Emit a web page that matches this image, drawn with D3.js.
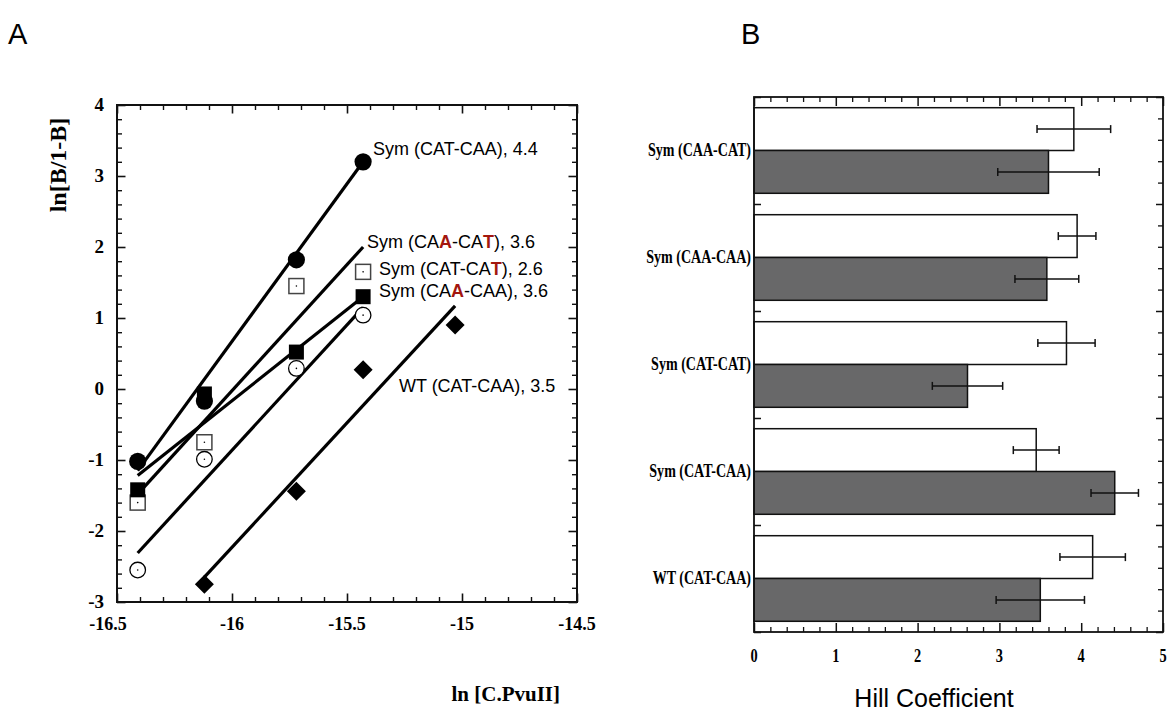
<!DOCTYPE html>
<html><head><meta charset="utf-8">
<script src="https://cdn.jsdelivr.net/npm/d3@7/dist/d3.min.js"></script>
<style>
body{margin:0;background:#fff;}
svg{display:block;}
</style></head>
<body>
<svg id="c" width="1171" height="713"></svg>
<script>
// ---------- Panel A data ----------
const concSym = [-16.41, -16.12, -15.72, -15.43];          // ln [C.PvuII]
const symCatCaaPts = [-1.02, -0.17, 1.82, 3.20];             // filled circles
const symCatCatPts = [-1.60, -0.75, 1.45, 1.65];             // open squares
const symCaaCaaPts = [-1.42, -0.07, 0.52, 1.30];             // filled squares
const symCaaCatPts = [-2.55, -0.99, 0.29, 1.04];             // open circles
const concWt = [-16.12, -15.72, -15.43, -15.03];
const wtPts = [-2.75, -1.44, 0.27, 0.90];                    // diamonds

const fitX1 = [-16.41, -16.41, -16.41, -16.41, -16.12];
const fitY1 = [-1.15, -1.22, -1.48, -2.31, -2.65];
const fitX2 = [-15.43, -15.43, -15.43, -15.43, -15.03];
const fitY2 = [3.20, 1.30, 2.00, 1.15, 1.17];

const fitLabels = [
  [["Sym (CAT-CAA), 4.4",0]],
  [["Sym (CA",0],["A",1],["-CA",0],["T",1],["), 3.6",0]],
  [["Sym (CAT-CA",0],["T",1],["), 2.6",0]],
  [["Sym (CA",0],["A",1],["-CAA), 3.6",0]],
  [["WT (CAT-CAA), 3.5",0]]
];
const fitLabelX = [-15.387, -15.413, -15.361, -15.361, -15.274];
const fitLabelY = [3.30, 1.99, 1.61, 1.30, -0.04];

const xTicksA = [-16.5, -16, -15.5, -15, -14.5];
const yTicksA = [-3, -2, -1, 0, 1, 2, 3, 4];

// ---------- Panel B data ----------
const hillCats = ["Sym (CAA-CAT)", "Sym (CAA-CAA)", "Sym (CAT-CAT)", "Sym (CAT-CAA)", "WT (CAT-CAA)"];
const hillOpen = [3.91, 3.95, 3.82, 3.45, 4.14];
const hillOpenErr = [0.45, 0.23, 0.35, 0.28, 0.40];
const hillFilled = [3.60, 3.58, 2.61, 4.41, 3.50];
const hillFilledErr = [0.62, 0.39, 0.43, 0.29, 0.54];
const xTicksB = [0, 1, 2, 3, 4, 5];

// ---------- drawing ----------
const svg = d3.select("#c");
const SERIF = "'Liberation Serif','Times New Roman',serif";
const SANS = "'Liberation Sans',Arial,sans-serif";
const RED = "#a3170f";

function range(a, b, s){ const r=[]; for(let v=a; v<=b+1e-9; v+=s) r.push(+v.toFixed(4)); return r; }
function isMajor(v, m){ return Math.abs(v/m - Math.round(v/m)) < 1e-6; }

// Panel labels
svg.append("text").attr("x", 8).attr("y", 44).attr("font-family", SANS).attr("font-size", 29).text("A");
svg.append("text").attr("x", 741).attr("y", 44).attr("font-family", SANS).attr("font-size", 29).text("B");

// ===== Panel A =====
const A = {l:117, r:577, t:105, b:602};
const xA = d3.scaleLinear().domain([-16.5, -14.5]).range([A.l, A.r]);
const yA = d3.scaleLinear().domain([-3, 4]).range([A.b, A.t]);
const gA = svg.append("g");

function ticksA(){
  const minorX = range(-16.5, -14.5, 0.1);
  const minorY = range(-3, 4, 0.2);
  const mk = (axis, vals, major, len, tr) => {
    const g = gA.append("g").attr("transform", tr)
      .call(axis.tickValues(vals.filter(v => !isMajor(v, major) )).tickSize(len).tickFormat(""));
    g.select(".domain").remove();
    g.selectAll("line").attr("stroke", "#111").attr("stroke-width", 1.4);
    const g2 = gA.append("g").attr("transform", tr)
      .call(axis.tickValues(vals.filter(v => isMajor(v, major))).tickSize(len*1.7).tickFormat(""));
    g2.select(".domain").remove();
    g2.selectAll("line").attr("stroke", "#111").attr("stroke-width", 1.6);
  };
  mk(d3.axisBottom(xA), minorX, 0.5, -5, `translate(0,${A.b})`);
  mk(d3.axisTop(xA), minorX, 0.5, -5, `translate(0,${A.t})`);
  mk(d3.axisLeft(yA), minorY, 1, -5, `translate(${A.l},0)`);
  mk(d3.axisRight(yA), minorY, 1, -5, `translate(${A.r},0)`);
}
ticksA();
gA.append("rect").attr("x", A.l).attr("y", A.t).attr("width", A.r-A.l).attr("height", A.b-A.t)
  .attr("fill", "none").attr("stroke", "#111").attr("stroke-width", 2);

gA.selectAll(".xl").data(xTicksA).enter().append("text")
  .attr("x", (d,i) => xA(d) - (i === 0 ? 9 : 0)).attr("y", A.b + 28).attr("text-anchor", "middle")
  .attr("font-family", SERIF).attr("font-weight", "bold").attr("font-size", 18)
  .text(d => String(d));
gA.selectAll(".yl").data(yTicksA).enter().append("text")
  .attr("x", A.l - 13).attr("y", d => yA(d) + 6).attr("text-anchor", "end")
  .attr("font-family", SERIF).attr("font-weight", "bold").attr("font-size", 19)
  .text(d => String(d));

gA.append("text").attr("transform", `translate(66,165) rotate(-90)`).attr("text-anchor", "middle")
  .attr("font-family", SERIF).attr("font-weight", "bold").attr("font-size", 24)
  .text("ln[B/1-B]");
gA.append("text").attr("x", 560).attr("y", 701).attr("text-anchor", "end")
  .attr("font-family", SERIF).attr("font-weight", "bold").attr("font-size", 21)
  .text("ln [C.PvuII]");

// fit lines
gA.selectAll(".fit").data(fitX1.map((d,i)=>i)).enter().append("line")
  .attr("x1", i => xA(fitX1[i])).attr("y1", i => yA(fitY1[i]))
  .attr("x2", i => xA(fitX2[i])).attr("y2", i => yA(fitY2[i]))
  .attr("stroke", "#000").attr("stroke-width", 3.2);

// markers
const zipA = (xs, ys) => xs.map((x,i)=>({x, y: ys[i]}));
// open circles
const oc = gA.selectAll(".oc").data(zipA(concSym, symCaaCatPts)).enter().append("g")
  .attr("transform", d => `translate(${xA(d.x)},${yA(d.y)})`);
oc.append("circle").attr("r", 7.8).attr("fill", "#fff").attr("stroke", "#000").attr("stroke-width", 1.3);
oc.append("circle").attr("r", 0.8).attr("fill", "#000");
// open squares
const os = gA.selectAll(".os").data(zipA(concSym, symCatCatPts)).enter().append("g")
  .attr("transform", d => `translate(${xA(d.x)},${yA(d.y)})`);
os.append("rect").attr("x", -7.5).attr("y", -7.5).attr("width", 15).attr("height", 15)
  .attr("fill", "#fff").attr("stroke", "#444").attr("stroke-width", 1.5);
os.append("circle").attr("r", 0.8).attr("fill", "#000");
// filled squares
gA.selectAll(".fs").data(zipA(concSym, symCaaCaaPts)).enter().append("rect")
  .attr("x", d => xA(d.x) - 7.5).attr("y", d => yA(d.y) - 7.5).attr("width", 15).attr("height", 15)
  .attr("fill", "#000");
// filled circles
gA.selectAll(".fc").data(zipA(concSym, symCatCaaPts)).enter().append("circle")
  .attr("cx", d => xA(d.x)).attr("cy", d => yA(d.y)).attr("r", 8.6).attr("fill", "#000");
// diamonds
gA.selectAll(".dm").data(zipA(concWt, wtPts)).enter().append("path")
  .attr("transform", d => `translate(${xA(d.x)},${yA(d.y)})`)
  .attr("d", "M0,-9.5L9.5,0L0,9.5L-9.5,0Z").attr("fill", "#000");

// fit labels
fitLabels.forEach((parts, i) => {
  const t = gA.append("text").attr("x", xA(fitLabelX[i])).attr("y", yA(fitLabelY[i]))
    .attr("font-family", SANS).attr("font-size", 18).attr("fill", "#000");
  parts.forEach(p => {
    const s = t.append("tspan").text(p[0]);
    if (p[1]) s.attr("fill", RED).attr("font-weight", "bold");
  });
});

// ===== Panel B =====
const B = {l:754, r:1163, t:97, b:632};
const xB = d3.scaleLinear().domain([0, 5]).range([B.l, B.r]);
const yB = d3.scaleBand().domain(hillCats).range([B.t, B.b]).paddingInner(0.2).paddingOuter(0.1);
const ySub = d3.scaleBand().domain(["open", "filled"]).range([0, yB.bandwidth()]);
const yTickB = d3.scaleLinear().domain([0, 5]).range([B.t, B.b]);
const gB = svg.append("g");

function ticksB(){
  const minorX = range(0, 5, 0.2);
  const minorY = range(0, 5, 0.2);
  const mk = (axis, vals, len, majLen, tr) => {
    const g = gB.append("g").attr("transform", tr)
      .call(axis.tickValues(vals.filter(v => !isMajor(v, 1))).tickSize(len).tickFormat(""));
    g.select(".domain").remove();
    g.selectAll("line").attr("stroke", "#111").attr("stroke-width", 1.3);
    const g2 = gB.append("g").attr("transform", tr)
      .call(axis.tickValues(vals.filter(v => isMajor(v, 1))).tickSize(majLen).tickFormat(""));
    g2.select(".domain").remove();
    g2.selectAll("line").attr("stroke", "#111").attr("stroke-width", 1.5);
  };
  mk(d3.axisBottom(xB), minorX, -5, -9, `translate(0,${B.b})`);
  mk(d3.axisTop(xB), minorX, -5, -9, `translate(0,${B.t})`);
  mk(d3.axisLeft(yTickB), minorY, -5, -7, `translate(${B.l},0)`);
  mk(d3.axisRight(yTickB), minorY, -5, -7, `translate(${B.r},0)`);
}
ticksB();

const barsG = gB.selectAll(".grp").data(hillCats).enter().append("g")
  .attr("transform", d => `translate(0,${yB(d)})`);
barsG.append("rect").attr("x", xB(0)).attr("y", ySub("open"))
  .attr("width", (d,i) => xB(hillOpen[i]) - xB(0)).attr("height", ySub.bandwidth())
  .attr("fill", "#fff").attr("stroke", "#111").attr("stroke-width", 1.5);
barsG.append("rect").attr("x", xB(0)).attr("y", ySub("filled"))
  .attr("width", (d,i) => xB(hillFilled[i]) - xB(0)).attr("height", ySub.bandwidth())
  .attr("fill", "#686869").attr("stroke", "#111").attr("stroke-width", 1.5);

function errBar(g, val, err, key){
  const yc = ySub(key) + ySub.bandwidth()/2;
  g.append("line").attr("x1", (d,i) => xB(val[i]-err[i])).attr("x2", (d,i) => xB(val[i]+err[i]))
    .attr("y1", yc).attr("y2", yc).attr("stroke", "#111").attr("stroke-width", 1.5);
  [-1, 1].forEach(s => {
    g.append("line").attr("x1", (d,i) => xB(val[i]+s*err[i])).attr("x2", (d,i) => xB(val[i]+s*err[i]))
      .attr("y1", yc-4).attr("y2", yc+4).attr("stroke", "#111").attr("stroke-width", 1.5);
  });
}
errBar(barsG, hillOpen, hillOpenErr, "open");
errBar(barsG, hillFilled, hillFilledErr, "filled");

gB.append("rect").attr("x", B.l).attr("y", B.t).attr("width", B.r-B.l).attr("height", B.b-B.t)
  .attr("fill", "none").attr("stroke", "#111").attr("stroke-width", 1.8);

// category labels
gB.selectAll(".cl").data(hillCats).enter().append("text")
  .attr("transform", d => `translate(${B.l - 3},${yB(d) + yB.bandwidth()/2 + 5}) scale(0.78,1)`)
  .attr("text-anchor", "end").attr("font-family", SERIF).attr("font-weight", "bold").attr("font-size", 18)
  .text(d => d);

gB.selectAll(".xbl").data(xTicksB).enter().append("text")
  .attr("transform", d => `translate(${xB(d)},${B.b + 30}) scale(0.8,1)`)
  .attr("text-anchor", "middle").attr("font-family", SERIF).attr("font-weight", "bold").attr("font-size", 18)
  .text(d => String(d));

gB.append("text").attr("x", 934).attr("y", 707).attr("text-anchor", "middle")
  .attr("font-family", SANS).attr("font-size", 25).text("Hill Coefficient");
</script>
</body></html>
